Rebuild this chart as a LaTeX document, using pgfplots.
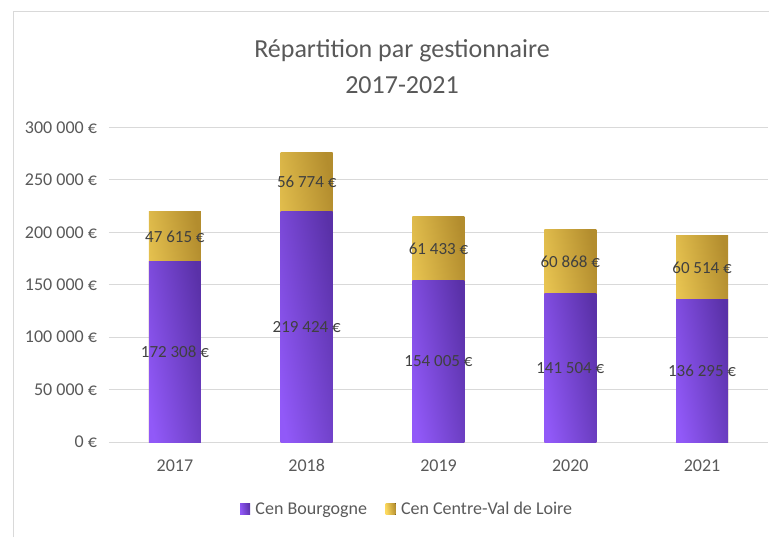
\documentclass[border=0pt]{standalone}
\usepackage{fontspec}
\setmainfont{Carlito}
\usepackage{pgfplots}
\pgfplotsset{compat=1.18}
\usepackage{pgfplotstable}
\definecolor{purL}{HTML}{9159F8}
\definecolor{purD}{HTML}{5A31A8}
\definecolor{golL}{HTML}{FDDA5F}
\definecolor{golD}{HTML}{B38D2E}
\definecolor{txt}{HTML}{595959}
\definecolor{lab}{HTML}{404040}
\definecolor{grd}{HTML}{D9D9D9}
\pgfplotsset{
  sqlegend/.style={legend image code/.code={\fill[##1] (0pt,-4pt) rectangle (7.5pt,4.5pt);}},
  purbar/.style={draw=none, left color=purL, right color=purD, shading angle=100},
  golbar/.style={draw=none, left color=golL, right color=golD, shading angle=100},
}

\pgfplotstableread{
x a b
0 172308 47615
1 219424 56774
2 154005 61433
3 141504 60868
4 136295 60514
}\data

\begin{document}
\begin{tikzpicture}
\useasboundingbox (0,0) rectangle (576.75pt,402.75pt);
\draw[grd, line width=0.75pt] (9.75pt,0) -- (9.75pt,393.75pt) -- (576.75pt,393.75pt);
\node[txt, font=\fontsize{19.5}{23}\selectfont, anchor=base] at (301.5pt,359.6pt) {Répartition par gestionnaire};
\node[txt, font=\fontsize{19.5}{23}\selectfont, anchor=base] at (301.5pt,332.6pt) {2017-2021};
\begin{axis}[
  at={(81.75pt,71.25pt)}, anchor=south west,
  scale only axis, width=494.25pt, height=235.875pt,
  xmin=-0.5, xmax=4.5, ymin=0, ymax=300000,
  xtick={0,1,2,3,4}, xticklabels={2017,2018,2019,2020,2021},
  ytick={0,50000,100000,150000,200000,250000,300000},
  ymajorgrids, major grid style={grd, line width=0.75pt},
  axis line style={draw=none}, major tick length=0pt,
  tick label style={font=\fontsize{13.5}{16}\selectfont, text=txt},
  /pgf/number format/assume math mode=true,
  scaled y ticks=false,
  yticklabel={\pgfmathprintnumber[fixed,precision=0,1000 sep={\ }]{\tick}\ €},
  yticklabel style={xshift=-5.5pt},
  xticklabel style={yshift=-9.5pt},
  bar width=39pt,
  legend columns=-1,
  legend style={at={(axis description cs:0.4530,-0.2146)}, anchor=center, draw=none, fill=none,
    font=\fontsize{13.5}{16}\selectfont, text=txt,
    /tikz/every odd column/.append style={column sep=2pt},
    /tikz/every even column/.append style={column sep=12pt}},
]
\addlegendimage{purbar, sqlegend}
\addlegendentry{Cen Bourgogne}
\addlegendimage{golbar, sqlegend}
\addlegendentry{Cen Centre-Val de Loire}
\pgfplotsinvokeforeach{0,1,2,3,4}{
  \addplot[ybar, bar shift=0pt, golbar, forget plot, restrict x to domain=#1:#1]
    table[x=x, y expr=\thisrow{a}+\thisrow{b}] {\data};
  \addplot[ybar, bar shift=0pt, purbar, forget plot, restrict x to domain=#1:#1]
    table[x=x, y=a] {\data};
}
\addplot[draw=none, mark=none, forget plot, point meta=\thisrow{a},
  nodes near coords={\pgfmathprintnumber[fixed,precision=0,1000 sep={\ }]{\pgfplotspointmeta}\ €},
  every node near coord/.append style={anchor=center, font=\fontsize{12.75}{15}\selectfont, text=lab}]
  table[x=x, y expr=\thisrow{a}/2] {\data};
\addplot[draw=none, mark=none, forget plot, point meta=\thisrow{b},
  nodes near coords={\pgfmathprintnumber[fixed,precision=0,1000 sep={\ }]{\pgfplotspointmeta}\ €},
  every node near coord/.append style={anchor=center, font=\fontsize{12.75}{15}\selectfont, text=lab}]
  table[x=x, y expr=\thisrow{a}+\thisrow{b}/2] {\data};
\end{axis}
\end{tikzpicture}
\end{document}
